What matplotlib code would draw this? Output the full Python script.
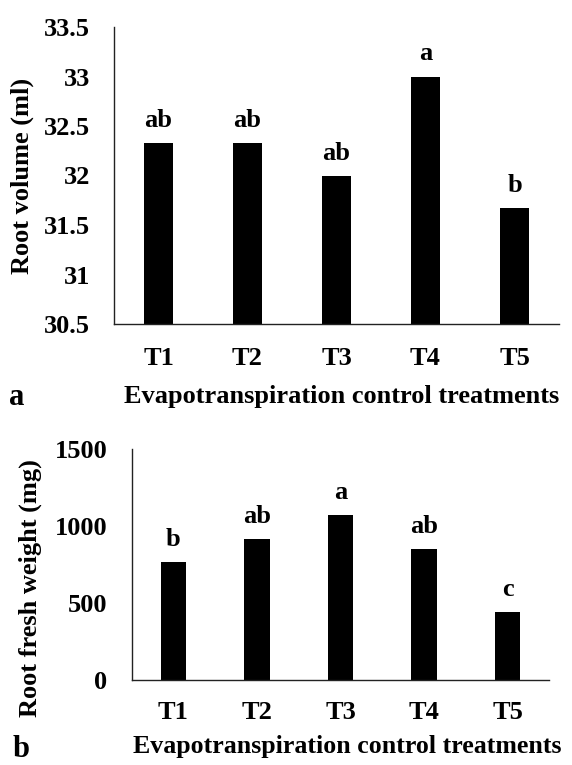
import matplotlib
matplotlib.use("Agg")
import matplotlib.pyplot as plt

categories = ["T1", "T2", "T3", "T4", "T5"]
root_volume = [32.33, 32.33, 32.0, 33.0, 31.67]
volume_letters = ["ab", "ab", "ab", "a", "b"]
root_weight = [765, 919, 1075, 852, 440]
weight_letters = ["b", "ab", "a", "ab", "c"]
volume_ticks = [30.5, 31, 31.5, 32, 32.5, 33, 33.5]
volume_ticklabels = ["30.5", "31", "31.5", "32", "32.5", "33", "33.5"]
weight_ticks = [0, 500, 1000, 1500]

plt.rcParams['font.family'] = ['Liberation Serif', 'DejaVu Serif']
plt.rcParams['font.weight'] = 'bold'

fig = plt.figure(figsize=(5.72, 7.65), dpi=100)
W, H = 572, 765
PX = 72 / 100  # points per pixel

def setup(ax):
    for s in ["top", "right"]:
        ax.spines[s].set_visible(False)
    for s in ["left", "bottom"]:
        ax.spines[s].set_linewidth(1.0)
        ax.spines[s].set_color("#222222")
    ax.tick_params(axis="both", length=0, labelsize=19)
    for lab in ax.get_xticklabels() + ax.get_yticklabels():
        lab.set_fontweight("bold")

x = list(range(len(categories)))

# Top panel
ax1 = fig.add_axes([114 / W, 441 / H, 445 / W, 297 / H])
ax1.bar(x, [v - 30.5 for v in root_volume], bottom=30.5, width=0.315, color="black")
ax1.set_xlim(-0.5, 4.5)
ax1.set_ylim(30.5, 33.5)
ax1.set_yticks(volume_ticks)
ax1.set_yticklabels(volume_ticklabels)
ax1.set_xticks(x)
ax1.set_xticklabels(categories)
ax1.tick_params(axis="y", pad=24 * PX)
ax1.tick_params(axis="x", pad=23 * PX)
setup(ax1)
for i, (v, l) in enumerate(zip(root_volume, volume_letters)):
    ax1.annotate(l, (i, v), xytext=(0, 16 * PX), textcoords="offset points",
                 ha="center", va="baseline", fontsize=19, fontweight="bold")
ax1.set_ylabel("Root volume (ml)", fontsize=19, fontweight="bold")
ax1.yaxis.set_label_coords((34 - 114) / 445, 0.498)
fig.text(341.5 / W, 1 - 403 / H, "Evapotranspiration control treatments",
         ha="center", va="baseline", fontsize=19, fontweight="bold")
fig.text(16.5 / W, 1 - 405 / H, "a", ha="center", va="baseline", fontsize=22, fontweight="bold")

# Bottom panel
ax2 = fig.add_axes([131.7 / W, 85 / H, 417.6 / W, 230.7 / H])
ax2.bar(x, root_weight, width=0.31, color="black")
ax2.set_xlim(-0.5, 4.5)
ax2.set_ylim(0, 1500)
ax2.set_yticks(weight_ticks)
ax2.set_xticks(x)
ax2.set_xticklabels(categories)
ax2.tick_params(axis="y", pad=24.5 * PX)
ax2.tick_params(axis="x", pad=21 * PX)
setup(ax2)
for i, (v, l) in enumerate(zip(root_weight, weight_letters)):
    ax2.annotate(l, (i, v), xytext=(0, 16 * PX), textcoords="offset points",
                 ha="center", va="baseline", fontsize=19, fontweight="bold")
ax2.set_ylabel("Root fresh weight (mg)", fontsize=19, fontweight="bold")
ax2.yaxis.set_label_coords((42 - 131.7) / 417.6, 0.40)
fig.text(347 / W, 1 - 753 / H, "Evapotranspiration control treatments",
         ha="center", va="baseline", fontsize=18.6, fontweight="bold")
fig.text(21.5 / W, 1 / H, "b", ha="center", va="bottom", fontsize=22, fontweight="bold")

fig.savefig("out.png", dpi=100)
